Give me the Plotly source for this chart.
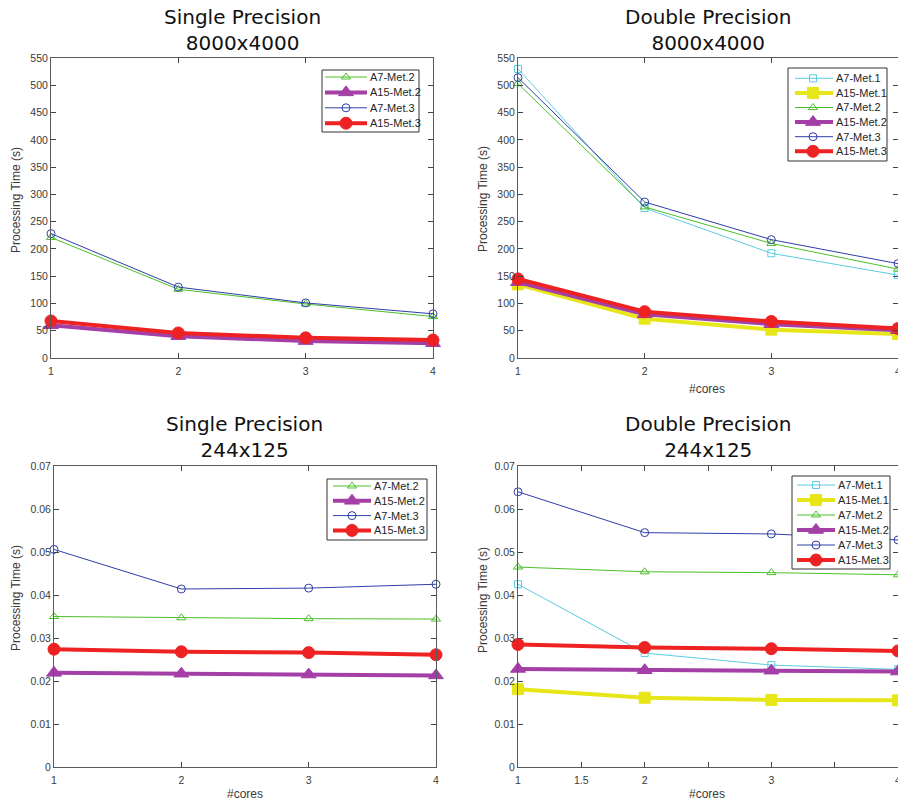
import plotly.graph_objects as go

# ---- data -------------------------------------------------------------
cores = [1, 2, 3, 4]

# Single precision, 8000x4000 (seconds)
sp_big_a7_met2 = [221, 126, 99, 76]
sp_big_a15_met2 = [60, 40, 31, 27]
sp_big_a7_met3 = [228, 130, 101, 81]
sp_big_a15_met3 = [68, 46, 37, 33]

# Double precision, 8000x4000 (seconds)
dp_big_a7_met1 = [530, 275, 192, 152]
dp_big_a15_met1 = [135, 72, 52, 44]
dp_big_a7_met2 = [503, 277, 210, 163]
dp_big_a15_met2 = [139, 80, 62, 51]
dp_big_a7_met3 = [514, 286, 217, 173]
dp_big_a15_met3 = [145, 85, 67, 54]

# Single precision, 244x125 (seconds)
sp_small_a7_met2 = [0.0350, 0.0347, 0.0345, 0.0344]
sp_small_a15_met2 = [0.0219, 0.0217, 0.0215, 0.0213]
sp_small_a7_met3 = [0.0506, 0.0414, 0.0416, 0.0425]
sp_small_a15_met3 = [0.0274, 0.0268, 0.0266, 0.0261]

# Double precision, 244x125 (seconds)
dp_small_a7_met1 = [0.0425, 0.0265, 0.0237, 0.0227]
dp_small_a15_met1 = [0.0181, 0.0161, 0.0156, 0.0155]
dp_small_a7_met2 = [0.0465, 0.0454, 0.0452, 0.0447]
dp_small_a15_met2 = [0.0228, 0.0225, 0.0224, 0.0222]
dp_small_a7_met3 = [0.0640, 0.0545, 0.0542, 0.0528]
dp_small_a15_met3 = [0.0285, 0.0278, 0.0275, 0.0270]

big_yticks = [0, 50, 100, 150, 200, 250, 300, 350, 400, 450, 500, 550]
small_yticks = [0, 0.01, 0.02, 0.03, 0.04, 0.05, 0.06, 0.07]

# ---- styles -----------------------------------------------------------
W, H = 898, 805
SANS = "Liberation Sans, Arial, sans-serif"
TICK_FONT = dict(family=SANS, size=10.5, color="#3a3a3a")
LABEL_FONT = dict(family=SANS, size=12, color="#3a3a3a")
LEGEND_FONT = dict(family=SANS, size=11, color="#262626")
TITLE_FONT = dict(family="DejaVu Sans, Verdana, sans-serif", size=20, color="#111111")

STYLE = {
    "A7-Met.1": dict(color="#5ccbe0", width=1, symbol="square-open", size=7),
    "A15-Met.1": dict(color="#e6e619", width=4, symbol="square", size=11),
    "A7-Met.2": dict(color="#4cc02a", width=1, symbol="triangle-up-open", size=8),
    "A15-Met.2": dict(color="#a33fa6", width=4, symbol="triangle-up", size=13),
    "A7-Met.3": dict(color="#2e3ea6", width=1, symbol="circle-open", size=8),
    "A15-Met.3": dict(color="#ee2222", width=4, symbol="circle", size=12),
}

fig = go.Figure()


def add_series(name, x, y, xa, ya, mode="lines+markers"):
    s = STYLE[name]
    fig.add_trace(go.Scatter(
        x=x, y=y, name=name, mode=mode, showlegend=False,
        xaxis=xa, yaxis=ya, cliponaxis=False, hoverinfo="skip" if xa == "x5" else None,
        line=dict(color=s["color"], width=s["width"]),
        marker=dict(symbol=s["symbol"], size=s["size"], color=s["color"],
                    line=dict(color=s["color"], width=1)),
    ))


# top-left
add_series("A7-Met.2", cores, sp_big_a7_met2, "x", "y")
add_series("A15-Met.2", cores, sp_big_a15_met2, "x", "y")
add_series("A7-Met.3", cores, sp_big_a7_met3, "x", "y")
add_series("A15-Met.3", cores, sp_big_a15_met3, "x", "y")
# top-right
add_series("A7-Met.1", cores, dp_big_a7_met1, "x2", "y2")
add_series("A15-Met.1", cores, dp_big_a15_met1, "x2", "y2")
add_series("A7-Met.2", cores, dp_big_a7_met2, "x2", "y2")
add_series("A15-Met.2", cores, dp_big_a15_met2, "x2", "y2")
add_series("A7-Met.3", cores, dp_big_a7_met3, "x2", "y2")
add_series("A15-Met.3", cores, dp_big_a15_met3, "x2", "y2")
# bottom-left
add_series("A7-Met.2", cores, sp_small_a7_met2, "x3", "y3")
add_series("A15-Met.2", cores, sp_small_a15_met2, "x3", "y3")
add_series("A7-Met.3", cores, sp_small_a7_met3, "x3", "y3")
add_series("A15-Met.3", cores, sp_small_a15_met3, "x3", "y3")
# bottom-right
add_series("A7-Met.1", cores, dp_small_a7_met1, "x4", "y4")
add_series("A15-Met.1", cores, dp_small_a15_met1, "x4", "y4")
add_series("A7-Met.2", cores, dp_small_a7_met2, "x4", "y4")
add_series("A15-Met.2", cores, dp_small_a15_met2, "x4", "y4")
add_series("A7-Met.3", cores, dp_small_a7_met3, "x4", "y4")
add_series("A15-Met.3", cores, dp_small_a15_met3, "x4", "y4")


def px_x(p):
    return p / W


def px_y(p):
    return 1 - p / H


# ---- in-axes legend boxes (drawn on a full-page pixel overlay) -------
LEGENDS = [
    dict(names=["A7-Met.2", "A15-Met.2", "A7-Met.3", "A15-Met.3"],
         box=(322, 70, 419, 132), y0=77, dy=15.4, lx=(325, 367), mx=346, tx=368),
    dict(names=["A7-Met.1", "A15-Met.1", "A7-Met.2", "A15-Met.2", "A7-Met.3", "A15-Met.3"],
         box=(788, 68, 887, 161), y0=78.3, dy=14.6, lx=(795, 833), mx=813, tx=834),
    dict(names=["A7-Met.2", "A15-Met.2", "A7-Met.3", "A15-Met.3"],
         box=(327, 479, 427, 540), y0=486, dy=14.8, lx=(333, 371), mx=352, tx=372),
    dict(names=["A7-Met.1", "A15-Met.1", "A7-Met.2", "A15-Met.2", "A7-Met.3", "A15-Met.3"],
         box=(792, 476, 890, 569), y0=485, dy=15, lx=(797, 835), mx=816, tx=836),
]

for lg in LEGENDS:
    l, t, r, b = lg["box"]
    fig.add_trace(go.Scatter(
        x=[l, r, r, l, l], y=[t, t, b, b, t], mode="lines", fill="toself",
        fillcolor="white", line=dict(color="#333333", width=1),
        xaxis="x5", yaxis="y5", showlegend=False, hoverinfo="skip"))
    for i, name in enumerate(lg["names"]):
        yc = lg["y0"] + i * lg["dy"]
        add_series(name, list(lg["lx"]), [yc, yc], "x5", "y5", mode="lines")
        add_series(name, [lg["mx"]], [yc], "x5", "y5", mode="markers")
        fig.add_annotation(text=name, x=px_x(lg["tx"]), y=px_y(yc), xref="paper", yref="paper",
                           xanchor="left", yanchor="middle", showarrow=False,
                           font=LEGEND_FONT)

# panel boxes in pixels: (left, right, top, bottom)
panels = {
    "": (51, 433, 58, 358),
    "2": (518, 898, 58, 358),
    "3": (54, 436, 466, 767),
    "4": (518, 898, 466, 767),
}

axis_common = dict(
    showline=True, linecolor="#5a5a5a", linewidth=1, mirror="ticks",
    ticks="inside", ticklen=5, tickcolor="#444444", tickwidth=1,
    showgrid=False, zeroline=False, tickfont=TICK_FONT, automargin=False,
    ticklabeloverflow="allow",
)

layout = {}
for key, (l, r, t, b) in panels.items():
    xa = "xaxis" + key
    ya = "yaxis" + key
    big = key in ("", "2")
    xticks = dict(tickvals=cores, ticktext=[str(c) for c in cores])
    if key == "4":
        xticks = dict(tickvals=[1, 1.5, 2, 2.5, 3, 3.5, 4],
                      ticktext=["1", "1.5", "2", "", "3", "", "4"])
    layout[xa] = dict(axis_common, domain=[px_x(l), px_x(r)], range=[1, 4],
                      anchor="y" + key, ticklabelstandoff=3, **xticks)
    yt = big_yticks if big else small_yticks
    layout[ya] = dict(axis_common, domain=[px_y(b), px_y(t)],
                      range=[yt[0], yt[-1]], anchor="x" + key,
                      tickvals=yt, ticktext=[("%g" % v) for v in yt])

layout["xaxis5"] = dict(domain=[0, 1], range=[0, W], visible=False, anchor="y5",
                        fixedrange=True)
layout["yaxis5"] = dict(domain=[0, 1], range=[H, 0], visible=False, anchor="x5",
                        fixedrange=True)

fig.update_layout(
    width=W, height=H,
    margin=dict(l=0, r=0, t=0, b=0),
    paper_bgcolor="white", plot_bgcolor="rgba(0,0,0,0)",
    showlegend=False,
    **layout,
)

# panel titles
titles = [
    ("Single Precision<br>8000x4000", (51 + 433) / 2, 3),
    ("Double Precision<br>8000x4000", (518 + 898) / 2, 3),
    ("Single Precision<br>244x125", (54 + 436) / 2, 410),
    ("Double Precision<br>244x125", (518 + 898) / 2, 410),
]
for txt, cx, ty in titles:
    fig.add_annotation(text=txt, x=px_x(cx), y=px_y(ty), xref="paper", yref="paper",
                       xanchor="center", yanchor="top", showarrow=False,
                       font=TITLE_FONT, align="center")

# axis titles
for cx, cy in [(16, 200), (483, 199), (16, 598), (483, 600)]:
    fig.add_annotation(text="Processing Time (s)", x=px_x(cx), y=px_y(cy),
                       xref="paper", yref="paper", textangle=-90, showarrow=False,
                       xanchor="center", yanchor="middle", font=LABEL_FONT)
for cx, cy in [(707, 389), (245, 794), (707, 794)]:
    fig.add_annotation(text="#cores", x=px_x(cx), y=px_y(cy),
                       xref="paper", yref="paper", showarrow=False,
                       xanchor="center", yanchor="middle", font=LABEL_FONT)

fig.write_html("out.html")
